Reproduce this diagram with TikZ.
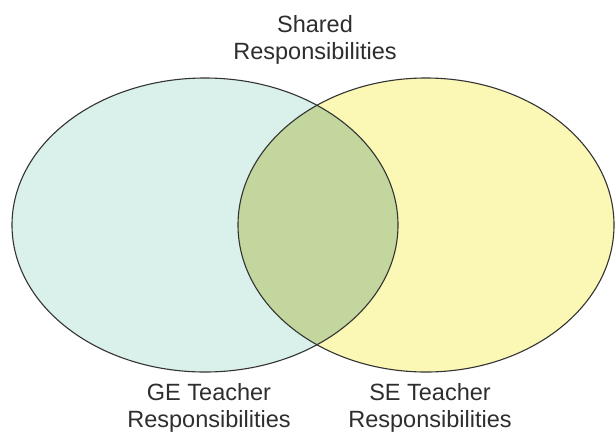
\documentclass[tikz,border=0pt]{standalone}
\usepackage{fontspec}
\setmainfont{Liberation Sans}
\begin{document}
\begin{tikzpicture}[x=1pt,y=-1pt,
  label text/.style={inner sep=0pt, align=center, text=black!82,
    font=\fontsize{23.5}{27.5}\selectfont},
  ring/.style={draw=black!80, line width=1.1pt}]
\definecolor{geFill}{RGB}{218,240,234}
\definecolor{seFill}{RGB}{251,247,180}
\definecolor{bothFill}{RGB}{194,214,158}
\useasboundingbox (0,0) rectangle (615,432);
\fill[white] (0,0) rectangle (615,432);
% the two sets
\fill[geFill] (205,225) ellipse [x radius=193, y radius=147];
\fill[seFill] (426,225) ellipse [x radius=188, y radius=147];
% overlap
\begin{scope}
  \clip (205,225) ellipse [x radius=193, y radius=147];
  \fill[bothFill] (426,225) ellipse [x radius=188, y radius=147];
\end{scope}
\draw[ring] (205,225) ellipse [x radius=193, y radius=147];
\draw[ring] (426,225) ellipse [x radius=188, y radius=147];
% labels
\node[label text] (shared) at (315,40) {Shared\\Responsibilities};
\node[label text] (ge) at (209,408) {GE Teacher\\Responsibilities};
\node[label text] (se) at (430,408) {SE Teacher\\Responsibilities};
\end{tikzpicture}
\end{document}
